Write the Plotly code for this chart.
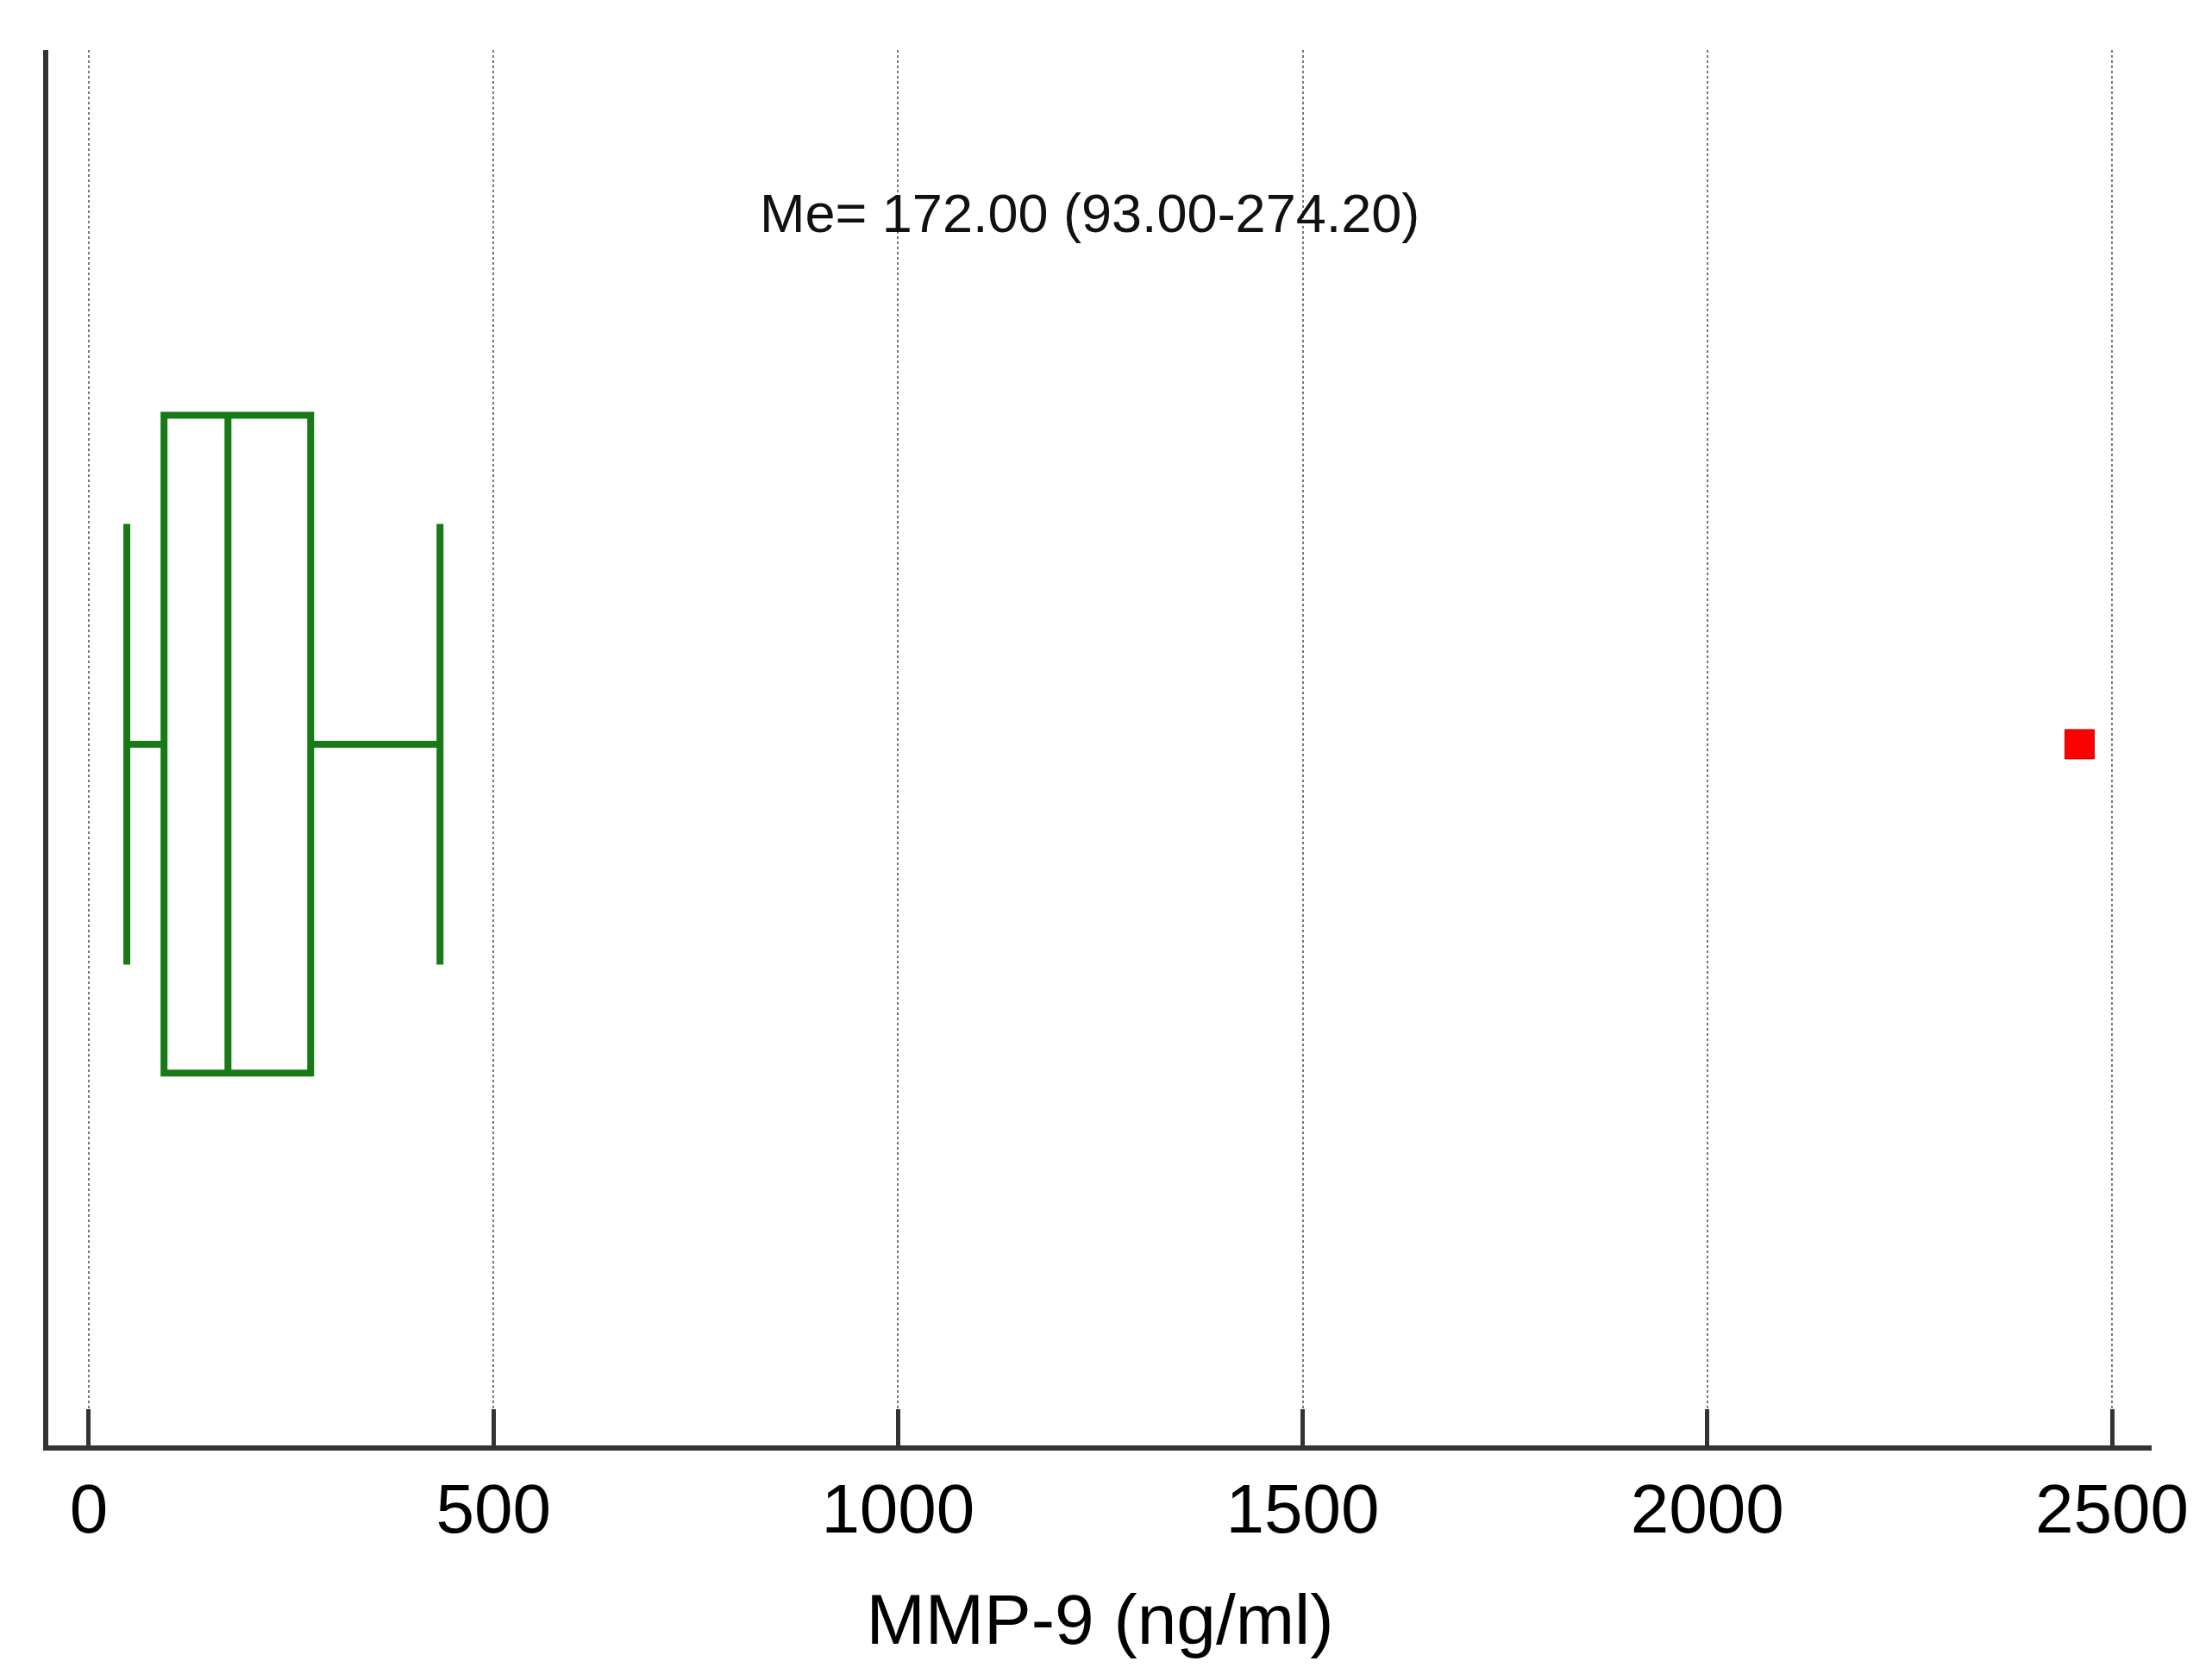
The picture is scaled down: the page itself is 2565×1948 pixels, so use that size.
import plotly.graph_objects as go

# Data
group = [0]
q1 = [93.0]
median = [172.0]
q3 = [274.2]
lower_fence = [47.0]
upper_fence = [434.0]
outlier_x = [2460.0]
outlier_y = [0]
tick_vals = [0, 500, 1000, 1500, 2000, 2500]
tick_text = ["0", "500", "1000", "1500", "2000", "2500"]
annotation_text = "Me= 172.00 (93.00-274.20)"
x_title = "MMP-9 (ng/ml)"

fig = go.Figure()
fig.add_trace(go.Box(
    y=group, q1=q1, median=median, q3=q3,
    lowerfence=lower_fence, upperfence=upper_fence,
    orientation="h", width=0.938, whiskerwidth=0.67,
    line=dict(color="#177a17", width=8),
    fillcolor="rgba(255,255,255,0)",
    boxpoints=False, showlegend=False, hoverinfo="skip",
))
fig.add_trace(go.Scatter(
    x=outlier_x, y=outlier_y, mode="markers",
    marker=dict(symbol="square", size=34, color="#ff0000",
                line=dict(color="#cc0000", width=1)),
    showlegend=False,
))

fig.add_annotation(
    x=0.4949, y=0.883, xref="paper", yref="paper",
    text=annotation_text, showarrow=False,
    font=dict(family="Liberation Sans, Arial", size=63, color="#111"),
    xanchor="center", yanchor="middle",
)

fig.update_xaxes(
    range=[-50, 2549], tickvals=tick_vals, ticktext=tick_text,
    ticks="inside", ticklen=42, tickwidth=5, tickcolor="#333",
    showline=True, linecolor="#333", linewidth=6,
    showgrid=True, gridcolor="#777777", griddash="dot", gridwidth=2,
    zeroline=False,
    tickfont=dict(family="Liberation Sans, Arial", size=80, color="#000"),
    ticklabelstandoff=-1,
    title=dict(text=x_title, standoff=58,
               font=dict(family="Liberation Sans, Arial", size=82, color="#000")),
)
fig.update_yaxes(
    range=[-1, 0.99], showticklabels=False, ticks="",
    showline=True, linecolor="#333", linewidth=6,
    showgrid=False, zeroline=False,
)
fig.update_layout(
    width=2565, height=1948,
    margin=dict(l=48, r=78, t=50, b=280),
    plot_bgcolor="white", paper_bgcolor="white",
)
fig.write_html("out.html")
